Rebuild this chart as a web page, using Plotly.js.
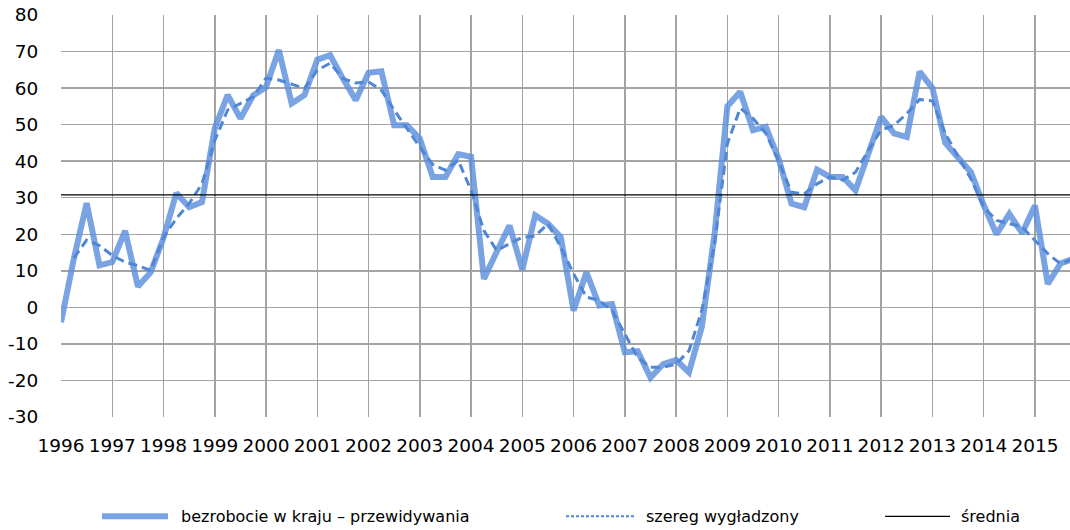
<!DOCTYPE html>
<html>
<head>
<meta charset="utf-8">
<script src="https://cdn.plot.ly/plotly-3.0.1.min.js"></script>
<style>
  html, body { margin: 0; padding: 0; background: #ffffff; }
  #chart { width: 1070px; height: 530px; }
</style>
</head>
<body>
<div id="chart"></div>
<script>
// ---- data ----
const years = [1996, 1997, 1998, 1999, 2000, 2001, 2002, 2003, 2004, 2005,
               2006, 2007, 2008, 2009, 2010, 2011, 2012, 2013, 2014, 2015];
const quarters = ['I', 'II', 'III', 'IV'];
const yearLabels = ['1996', '1997', '1998', '1999', '2000', '2001', '2002', '2003', '2004', '2005',
                    '2006', '2007', '2008', '2009', '2010', '2011', '2012', '2013', '2014', '2015'];
const yTickValues = [-30, -20, -10, 0, 10, 20, 30, 40, 50, 60, 70, 80];
const yTickLabels = ['-30', '-20', '-10', '0', '10', '20', '30', '40', '50', '60', '70', '80'];

// bezrobocie w kraju – przewidywania (quarterly balance)
const forecast = [
  -4.1, 13.3, 28.5, 11.5,
  12.4, 20.9, 5.7, 9.6,
  19.0, 31.3, 27.4, 28.8,
  49.0, 58.1, 51.7, 58.0,
  60.3, 70.4, 55.8, 58.1,
  67.8, 69.0, 62.6, 56.7,
  64.2, 64.6, 49.8, 49.8,
  46.2, 35.7, 35.7, 41.9,
  41.2, 7.8, 15.2, 22.4,
  10.3, 25.2, 22.9, 19.2,
  -0.9, 9.6, 0.5, 0.9,
  -12.3, -12.0, -19.2, -15.5,
  -14.4, -17.8, -5.4, 20.0,
  55.0, 59.0, 48.5, 49.4,
  40.7, 28.4, 27.4, 37.7,
  35.7, 35.7, 32.0, 42.0,
  52.1, 47.6, 46.6, 64.5,
  60.0, 45.0, 41.0, 37.0,
  28.0, 20.0, 25.6, 20.3,
  27.9, 6.4, 12.0, 13.3
];

// szereg wygładzony
const smoothed = [
  null, 13.5, 18.4, 16.9,
  14.2, 12.4, 11.4, 10.1,
  19.2, 24.3, 28.4, 33.8,
  45.7, 54.0, 55.8, 57.6,
  62.7, 62.2, 61.1, 59.9,
  64.9, 66.8, 62.6, 61.4,
  61.7, 59.4, 54.0, 48.9,
  43.9, 39.1, 37.5, 40.2,
  32.0, 21.0, 15.6, 17.4,
  19.2, 19.5, 22.9, 16.5,
  9.2, 2.8, 1.9, -0.9,
  -7.3, -13.7, -16.4, -16.4,
  -15.5, -11.9, -0.9, 17.4,
  44.8, 54.5, 51.7, 47.6,
  40.0, 31.5, 31.1, 33.8,
  35.7, 34.8, 37.0, 43.0,
  48.5, 49.8, 53.0, 56.9,
  56.5, 47.6, 41.3, 35.2,
  27.4, 23.8, 22.9, 22.0,
  18.3, 14.7, 11.9, 13.3
];

// średnia
const meanValue = 30.8;

const seriesNames = ['bezrobocie w kraju \u2013 przewidywania', 'szereg wyg\u0142adzony', '\u015brednia'];

// ---- build ----
const categories = [];
years.forEach(y => quarters.forEach(q => categories.push(y + ' ' + q)));
const tickVals = years.map(y => y + ' I');

const mainColor = '#5b8fdc';
const smoothColor = '#4f86d6';

const traces = [
  {
    x: categories, y: forecast, type: 'scatter', mode: 'lines',
    name: seriesNames[0],
    line: { color: mainColor, width: 6, shape: 'linear' },
    opacity: 0.82,
    showlegend: false
  },
  {
    x: categories, y: smoothed, type: 'scatter', mode: 'lines',
    name: seriesNames[1],
    line: { color: smoothColor, width: 3, dash: '9px,5px' },
    connectgaps: false,
    showlegend: false
  },
  {
    x: categories, y: categories.map(() => meanValue), type: 'scatter', mode: 'lines',
    name: seriesNames[2],
    line: { color: '#000000', width: 1.3 },
    showlegend: false
  }
];

// custom legend placed below the plot (paper coordinates)
const plotLeft = 61, plotRight = 1070, plotTop = 15, plotBottom = 416.7;
const px = v => (v - plotLeft) / (plotRight - plotLeft);
const py = v => (plotBottom - v) / (plotBottom - plotTop);
const legY = 516;

const shapes = [
  { type: 'line', xref: 'paper', yref: 'paper', x0: px(102), x1: px(168), y0: py(legY), y1: py(legY),
    line: { color: mainColor, width: 6 }, opacity: 0.82 },
  { type: 'line', xref: 'paper', yref: 'paper', x0: px(566), x1: px(634), y0: py(legY), y1: py(legY),
    line: { color: smoothColor, width: 2, dash: '3px,2px' } },
  { type: 'line', xref: 'paper', yref: 'paper', x0: px(885), x1: px(950), y0: py(legY), y1: py(legY),
    line: { color: '#000000', width: 1.3 } }
];

const legFont = { family: 'DejaVu Sans, Verdana, sans-serif', size: 16, color: '#000000' };
const annotations = [
  { xref: 'paper', yref: 'paper', x: px(179), y: py(legY), xanchor: 'left', yanchor: 'middle',
    text: seriesNames[0], showarrow: false, font: legFont },
  { xref: 'paper', yref: 'paper', x: px(644), y: py(legY), xanchor: 'left', yanchor: 'middle',
    text: seriesNames[1], showarrow: false, font: legFont },
  { xref: 'paper', yref: 'paper', x: px(959), y: py(legY), xanchor: 'left', yanchor: 'middle',
    text: seriesNames[2], showarrow: false, font: legFont }
];

const tickFont = { family: 'DejaVu Sans, Verdana, sans-serif', size: 18.5, color: '#000000' };

const layout = {
  width: 1070, height: 530,
  margin: { l: plotLeft, r: 1070 - plotRight, t: plotTop, b: 530 - plotBottom, pad: 0 },
  paper_bgcolor: '#ffffff', plot_bgcolor: '#ffffff',
  showlegend: false,
  xaxis: {
    type: 'category',
    range: [0, (plotRight - plotLeft) / 12.815],
    tickmode: 'array', tickvals: tickVals, ticktext: yearLabels,
    showgrid: true, gridcolor: '#a3a3a3', gridwidth: 1.5,
    ticks: 'outside', ticklen: 12, tickcolor: 'rgba(0,0,0,0)',
    tickfont: tickFont, zeroline: false, showline: false,
    fixedrange: true
  },
  yaxis: {
    range: [-30, 80],
    tickmode: 'array', tickvals: yTickValues, ticktext: yTickLabels,
    showgrid: true, gridcolor: '#a3a3a3', gridwidth: 1.5,
    ticks: 'outside', ticklen: 18, tickcolor: 'rgba(0,0,0,0)',
    tickfont: tickFont, zeroline: false, showline: false,
    fixedrange: true
  },
  shapes: shapes,
  annotations: annotations
};

Plotly.newPlot('chart', traces, layout, { staticPlot: true, displayModeBar: false });
</script>
</body>
</html>
